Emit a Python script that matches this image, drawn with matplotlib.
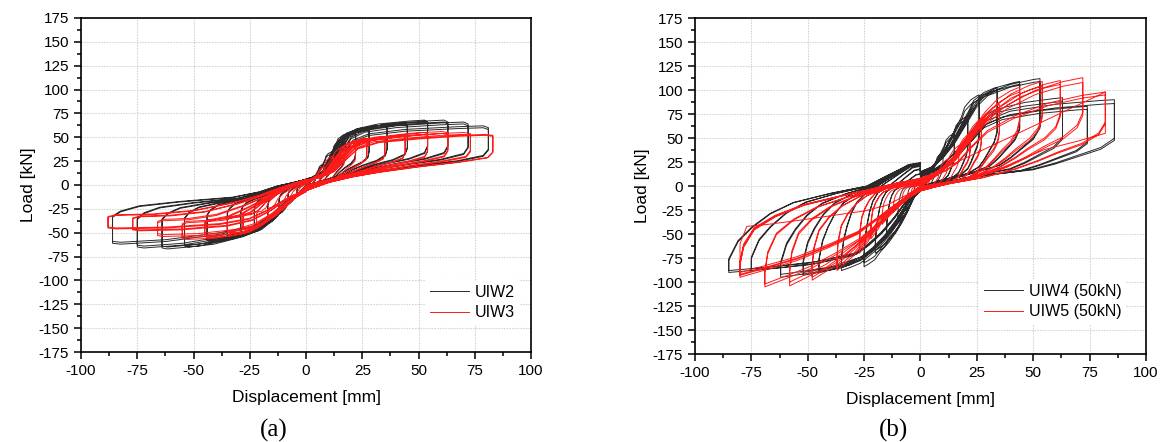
import numpy as np
import matplotlib.pyplot as plt
from matplotlib.ticker import MultipleLocator

plt.rcParams['font.family'] = ['Liberation Sans', 'DejaVu Sans']
plt.rcParams['axes.unicode_minus'] = False

# ---- loop templates read from one well-formed cycle of each specimen
# positive half: reloading from centre up to the peak, drop, return to centre
# negative half: loading from centre down to the peak, rise, return to centre
uiw2_pos_x = [0, 6, 12, 16, 20, 26, 40, 60, 70, 72, 72, 70, 60, 45, 30, 20, 10, 0]
uiw2_pos_y = [6, 10, 18, 35, 50, 57, 62, 65, 66, 64, 40, 33, 27, 22, 16, 11, 4, -6]
uiw2_neg_x = [0, -5, -10, -15, -22, -35, -55, -72, -75, -75, -72, -65, -50, -30, -20, -12, -5, 0]
uiw2_neg_y = [-6, -12, -22, -35, -47, -55, -63, -66, -65, -36, -30, -24, -19, -14, -8, -1, 3, 6]
uiw2_knee = (20, -22)

uiw3_pos_x = [0, 6, 12, 17, 22, 30, 45, 60, 70, 73, 73, 71, 60, 45, 30, 20, 10, 0]
uiw3_pos_y = [5, 8, 15, 28, 40, 47, 51, 54, 55, 54, 36, 30, 25, 20, 14, 9, 3, -6]
uiw3_neg_x = [0, -5, -10, -16, -24, -35, -55, -74, -77, -77, -74, -60, -45, -30, -20, -12, -5, 0]
uiw3_neg_y = [-6, -11, -18, -28, -38, -44, -48, -49, -48, -36, -34, -33, -29, -20, -12, -4, 2, 5]
uiw3_knee = (22, -24)

uiw4_pos_x = [0, 5, 10, 15, 20, 25, 30, 40, 50, 53, 53, 50, 45, 40, 35, 25, 15, 5, 0]
uiw4_pos_y = [15, 20, 30, 45, 65, 85, 97, 106, 111, 112, 62, 50, 40, 30, 22, 15, 8, 2, -5]
uiw4_neg_x = [0, -5, -10, -15, -20, -25, -35, -45, -52, -52, -50, -47, -43, -38, -30, -20, -12, -5, 0]
uiw4_neg_y = [-5, -15, -35, -52, -65, -75, -85, -90, -93, -80, -60, -45, -30, -18, -8, 0, 12, 22, 24]
uiw4_knee = (25, -25)

uiw5_pos_x = [0, 5, 10, 15, 20, 27, 35, 45, 55, 62, 62, 60, 55, 48, 42, 35, 25, 12, 0]
uiw5_pos_y = [8, 12, 18, 28, 45, 65, 82, 97, 106, 110, 75, 62, 50, 40, 30, 20, 10, 3, -5]
uiw5_neg_x = [0, -5, -10, -17, -25, -33, -42, -52, -58, -58, -57, -54, -48, -40, -30, -20, -10, 0]
uiw5_neg_y = [-5, -12, -22, -38, -55, -70, -85, -97, -104, -90, -70, -50, -35, -22, -12, -4, 3, 8]
uiw5_knee = (27, -25)

# ---- peak displacement / load of every cycle (mm, kN)
uiw2_d_pos = [4, 4, 8, 8, 12, 12, 17, 17, 22, 22, 28, 28, 36, 36, 45, 45, 54, 54, 63, 63, 72, 72, 81, 81]
uiw2_p_pos = [10, 9, 22, 20, 35, 33, 48, 46, 56, 54, 59, 57, 63, 61, 65, 63, 68, 66, 68, 66, 66, 64, 62, 60]
uiw2_d_neg = [-4, -4, -8, -8, -12, -12, -17, -17, -23, -23, -29, -29, -35, -35, -44, -44, -54, -54, -64, -64, -75, -75, -86, -86]
uiw2_p_neg = [-10, -9, -20, -19, -30, -28, -40, -38, -47, -45, -52, -50, -55, -53, -59, -57, -65, -63, -67, -65, -66, -64, -62, -60]

uiw3_d_pos = [4, 8, 12, 17, 22, 27, 27, 35, 35, 44, 44, 54, 54, 63, 63, 73, 73, 83, 83]
uiw3_p_pos = [9, 19, 30, 40, 46, 49, 48, 51, 50, 52, 51, 55, 53, 56, 54, 55, 53, 53, 52]
uiw3_d_neg = [-4, -8, -12, -17, -22, -28, -28, -35, -35, -45, -45, -55, -55, -66, -66, -77, -77, -88, -88]
uiw3_p_neg = [-9, -18, -27, -35, -41, -46, -45, -50, -48, -55, -53, -57, -55, -54, -52, -48, -47, -46, -45]

uiw4_d_pos = [3, 6, 10, 15, 15, 21, 21, 26, 26, 34, 34, 44, 44, 53, 53, 63, 63, 74, 74, 86, 86]
uiw4_p_pos = [8, 18, 35, 55, 52, 73, 70, 95, 90, 103, 100, 109, 106, 112, 109, 92, 88, 83, 80, 90, 86]
uiw4_d_neg = [-3, -6, -10, -15, -15, -20, -20, -25, -25, -35, -35, -45, -45, -52, -52, -62, -62, -75, -75, -85, -85]
uiw4_p_neg = [-8, -18, -32, -50, -48, -70, -67, -84, -80, -88, -85, -90, -88, -93, -90, -95, -92, -88, -86, -90, -88]

uiw5_d_pos = [4, 8, 12, 17, 22, 22, 27, 27, 35, 35, 44, 44, 54, 54, 62, 62, 72, 72, 82, 82]
uiw5_p_pos = [8, 16, 28, 42, 55, 52, 70, 66, 85, 80, 103, 98, 109, 104, 110, 106, 113, 108, 98, 95]
uiw5_d_neg = [-4, -8, -12, -17, -22, -22, -27, -27, -37, -37, -48, -48, -58, -58, -69, -69, -80, -80, -80, -80]
uiw5_p_neg = [-8, -16, -27, -40, -55, -52, -70, -67, -88, -85, -98, -95, -104, -100, -105, -102, -95, -93, -92, -90]

# final, strongly degraded excursion of UIW5
uiw5_last_x = [82, 82, 70, 55, 45, 35, 20, 5, -5, -15, -25, -40, -55, -68, -77, -80, -80]
uiw5_last_y = [98, 55, 47, 38, 28, 18, 8, 0, -8, -20, -26, -31, -36, -40, -42, -60, -93]


def warp(x, knee_t, d_t, d):
    # stretch the template to a new peak; the steep part near the centre moves only a little
    k = min(abs(knee_t) * (abs(d) / abs(d_t)) ** 0.35, 0.7 * abs(d))
    return np.sign(d) * np.interp(np.abs(x), [0, abs(knee_t), abs(d_t)], [0, k, abs(d)])


def build_loops(pos_x, pos_y, neg_x, neg_y, knee, d_pos, p_pos, d_neg, p_neg):
    pos_x, pos_y = np.array(pos_x, float), np.array(pos_y, float)
    neg_x, neg_y = np.array(neg_x, float), np.array(neg_y, float)
    xs, ys = [], []
    for dp, pp, dn, pn in zip(d_pos, p_pos, d_neg, p_neg):
        xs.append(warp(pos_x, knee[0], pos_x.max(), dp))
        ys.append(pos_y * pp / pos_y.max())
        xs.append(warp(neg_x, knee[1], neg_x.min(), dn))
        ys.append(neg_y * pn / neg_y.min())
    return np.concatenate(xs), np.concatenate(ys)


def style_axes(ax):
    ax.set_xlim(-100, 100)
    ax.set_ylim(-175, 175)
    ax.xaxis.set_major_locator(MultipleLocator(25))
    ax.xaxis.set_minor_locator(MultipleLocator(12.5))
    ax.yaxis.set_major_locator(MultipleLocator(25))
    ax.yaxis.set_minor_locator(MultipleLocator(12.5))
    ax.tick_params(which='both', direction='out', top=False, right=False, labelsize=11, width=1.1)
    ax.tick_params(which='major', length=5)
    ax.tick_params(which='minor', length=3)
    ax.grid(True, which='major', color='#d6d6ce', linestyle=(0, (1.5, 1)), linewidth=0.8)
    ax.set_axisbelow(True)
    for s in ax.spines.values():
        s.set_linewidth(1.2)
    ax.set_xlabel('Displacement [mm]', fontsize=12.5, labelpad=9)
    ax.set_ylabel('Load [kN]', fontsize=12.5, labelpad=2)


fig = plt.figure(figsize=(11.66, 4.42), dpi=100)
ax1 = fig.add_axes([0.0695, 0.2036, 0.386, 0.7557])
ax2 = fig.add_axes([0.596, 0.199, 0.3868, 0.760])

black = '#2a2a2a'
red = '#ff1a1a'

x, y = build_loops(uiw2_pos_x, uiw2_pos_y, uiw2_neg_x, uiw2_neg_y, uiw2_knee,
                   uiw2_d_pos, uiw2_p_pos, uiw2_d_neg, uiw2_p_neg)
ax1.plot(x, y, color=black, lw=0.7, label='UIW2')
x, y = build_loops(uiw3_pos_x, uiw3_pos_y, uiw3_neg_x, uiw3_neg_y, uiw3_knee,
                   uiw3_d_pos, uiw3_p_pos, uiw3_d_neg, uiw3_p_neg)
ax1.plot(x, y, color=red, lw=0.7, label='UIW3')

x, y = build_loops(uiw4_pos_x, uiw4_pos_y, uiw4_neg_x, uiw4_neg_y, uiw4_knee,
                   uiw4_d_pos, uiw4_p_pos, uiw4_d_neg, uiw4_p_neg)
ax2.plot(x, y, color=black, lw=0.7, label='UIW4 (50kN)')
x, y = build_loops(uiw5_pos_x, uiw5_pos_y, uiw5_neg_x, uiw5_neg_y, uiw5_knee,
                   uiw5_d_pos, uiw5_p_pos, uiw5_d_neg, uiw5_p_neg)
ax2.plot(np.append(x, uiw5_last_x), np.append(y, uiw5_last_y), color=red, lw=0.7, label='UIW5 (50kN)')

for ax in (ax1, ax2):
    style_axes(ax)

leg_kw = dict(fontsize=11.5, frameon=True, fancybox=False, edgecolor='none', facecolor='white',
              framealpha=1, handlelength=2.4, handletextpad=0.4, labelspacing=0.35, borderpad=0.3)
ax1.legend(loc='lower left', bbox_to_anchor=(0.748, 0.057), **leg_kw)
ax2.legend(loc='lower left', bbox_to_anchor=(0.613, 0.066), **leg_kw)

fig.text(274 / 1166, 1 - 430 / 442, '(a)', family='Liberation Serif', fontsize=18, ha='center', va='center')
fig.text(893 / 1166, 1 - 430 / 442, '(b)', family='Liberation Serif', fontsize=18, ha='center', va='center')

fig.savefig('out.png', dpi=100)
